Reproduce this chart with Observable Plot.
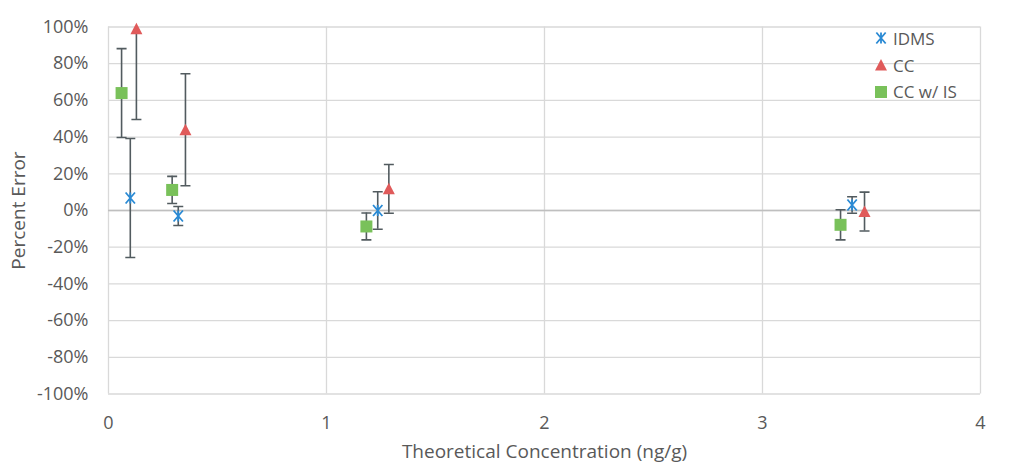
<!DOCTYPE html>
<html>
<head>
<meta charset="utf-8">
<script src="https://cdn.jsdelivr.net/npm/d3@7"></script>
<script src="https://cdn.jsdelivr.net/npm/@observablehq/plot@0.6"></script>
<style>
  html, body { margin: 0; padding: 0; background: #fff; }
  #wrap { position: relative; width: 1012px; height: 472px; font-family: "Open Sans", sans-serif; }
  #legend { position: absolute; left: 874px; top: 25px; color: #595959; font-size: 17px; }
  #legend .item { display: flex; align-items: center; height: 26.8px; }
  #legend svg { margin-right: 5px; }
</style>
</head>
<body>
<div id="wrap"><div id="legend"></div></div>
<script>
const seriesNames = ["IDMS", "CC", "CC w/ IS"];
const seriesColors = ["#2a8ad4", "#e05a5a", "#79c15a"];

const idmsX   = [0.100, 0.320, 1.235, 3.411];
const idmsY   = [6.8, -3.0, 0.0, 3.0];
const idmsErr = [32.4, 5.2, 10.2, 4.5];

const ccX   = [0.128, 0.353, 1.286, 3.468];
const ccY   = [99.0, 44.0, 11.8, -0.6];
const ccErr = [49.4, 30.5, 13.3, 10.6];

const ccisX   = [0.060, 0.292, 1.183, 3.358];
const ccisY   = [64.0, 11.2, -8.7, -7.8];
const ccisErr = [24.2, 7.4, 7.3, 8.2];

const xTicks = [0, 1, 2, 3, 4];
const yTicks = [-100, -80, -60, -40, -20, 0, 20, 40, 60, 80, 100];

const seriesX = [idmsX, ccX, ccisX];
const seriesY = [idmsY, ccY, ccisY];
const seriesE = [idmsErr, ccErr, ccisErr];

const rows = seriesNames.flatMap((name, s) =>
  seriesX[s].map((x, i) => ({
    series: name, x, y: seriesY[s][i],
    lo: seriesY[s][i] - seriesE[s][i], hi: seriesY[s][i] + seriesE[s][i]
  }))
);

// custom symbols (size = pi r^2)
const rad = size => Math.sqrt(size / Math.PI);
const capSym = { draw(ctx, size) { const r = rad(size); ctx.moveTo(-r, 0); ctx.lineTo(r, 0); } };
const starSym = { draw(ctx, size) { const r = rad(size); const d = r * 0.85;
  ctx.moveTo(-d, -r); ctx.lineTo(d, r); ctx.moveTo(-d, r); ctx.lineTo(d, -r);
  ctx.moveTo(0, -r); ctx.lineTo(0, r); } };
const triSym = { draw(ctx, size) { const r = rad(size);
  ctx.moveTo(0, -r); ctx.lineTo(r, r * 0.9); ctx.lineTo(-r, r * 0.9); ctx.closePath(); } };
const sqSym = { draw(ctx, size) { const r = rad(size); ctx.rect(-r, -r, 2 * r, 2 * r); } };
const symbols = [starSym, triSym, sqSym];

const errColor = "#525b5f";

const marks = [
  Plot.ruleY(yTicks, { stroke: "#d9d9d9", strokeWidth: 1.3 }),
  Plot.ruleX(xTicks, { stroke: "#d9d9d9", strokeWidth: 1.3 }),
  Plot.ruleY([0], { stroke: "#bfbfbf", strokeWidth: 1.5 }),
  Plot.ruleX(rows, { x: "x", y1: "lo", y2: "hi", stroke: errColor, strokeWidth: 1.6, clip: true }),
  Plot.dot(rows, { x: "x", y: "lo", symbol: capSym, r: 5, stroke: errColor, strokeWidth: 1.6, clip: true }),
  Plot.dot(rows, { x: "x", y: "hi", symbol: capSym, r: 5, stroke: errColor, strokeWidth: 1.6, clip: true })
];
seriesNames.forEach((name, s) => {
  const data = rows.filter(d => d.series === name);
  if (s === 0) {
    marks.push(Plot.dot(data, { x: "x", y: "y", symbol: symbols[s], r: 5.5, stroke: seriesColors[s], strokeWidth: 1.8, fill: "none" }));
  } else {
    marks.push(Plot.dot(data, { x: "x", y: "y", symbol: symbols[s], r: 6, fill: seriesColors[s], stroke: "none" }));
  }
});

const chart = Plot.plot({
  width: 1012,
  height: 472,
  marginLeft: 108,
  marginRight: 32,
  marginTop: 26.5,
  marginBottom: 78.5,
  style: { fontFamily: "Open Sans, sans-serif", fontSize: "18px", color: "#595959", background: "#fff" },
  x: { domain: [0, 4], ticks: xTicks, tickSize: 0, tickPadding: 22, tickFormat: d3.format("d"),
       label: "Theoretical Concentration (ng/g)", labelAnchor: "center", labelArrow: "none", labelOffset: 64 },
  y: { domain: [-100, 100], ticks: yTicks, tickSize: 0, tickPadding: 20, tickFormat: d => d + "%",
       label: "Percent Error", labelAnchor: "center", labelArrow: "none", labelOffset: 97 },
  marks
});
d3.select(chart).selectAll("[aria-label='x-axis label'] text, [aria-label='y-axis label'] text")
  .style("font-size", "19px");
document.getElementById("wrap").prepend(chart);

// legend
const leg = d3.select("#legend");
seriesNames.forEach((name, s) => {
  const item = leg.append("div").attr("class", "item");
  const svg = item.append("svg").attr("width", 14).attr("height", 14);
  const path = d3.path();
  symbols[s].draw(path, Math.PI * (s === 0 ? 5.5 * 5.5 : 6 * 6));
  const p = svg.append("path").attr("transform", "translate(7,7)").attr("d", path.toString());
  if (s === 0) p.attr("fill", "none").attr("stroke", seriesColors[s]).attr("stroke-width", 1.8);
  else p.attr("fill", seriesColors[s]);
  item.append("span").text(name);
});
</script>
</body>
</html>
